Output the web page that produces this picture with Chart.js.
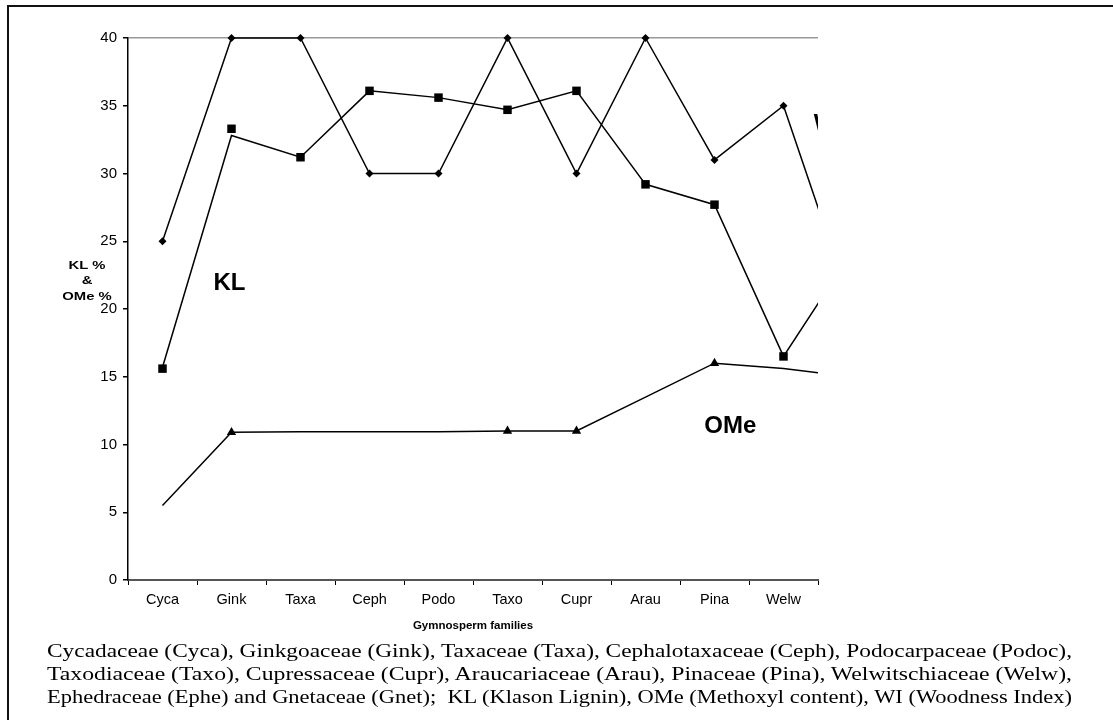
<!DOCTYPE html>
<html>
<head>
<meta charset="utf-8">
<script src="https://cdn.jsdelivr.net/npm/chart.js@4.4.1/dist/chart.umd.min.js"></script>
<style>
  body { margin: 0; background: #fff; overflow: hidden; }
  #page { position: relative; width: 1113px; height: 720px; overflow: hidden; }
  #frame { position: absolute; left: 7px; top: 5px; width: 1300px; height: 900px; border-top: 2px solid #111; border-left: 2px solid #111; }
  #wrap { position: absolute; left: 0; top: 0; width: 850px; height: 640px; }
  #caption { position: absolute; left: 47px; top: 639px; font-family: "Liberation Serif", "Times New Roman", serif; font-size: 19px; line-height: 23px; color: #000; }
  #caption div { white-space: nowrap; width: max-content; transform-origin: 0 0; }
</style>
</head>
<body>
<div id="page">
  <div id="frame"></div>
  <div id="wrap"><canvas id="myChart"></canvas></div>
  <div id="caption">
    <div>Cycadaceae (Cyca), Ginkgoaceae (Gink), Taxaceae (Taxa), Cephalotaxaceae (Ceph), Podocarpaceae (Podoc),</div>
    <div>Taxodiaceae (Taxo), Cupressaceae (Cupr), Araucariaceae (Arau), Pinaceae (Pina), Welwitschiaceae (Welw),</div>
    <div>Ephedraceae (Ephe) and Gnetaceae (Gnet);&nbsp; KL (Klason Lignin), OMe (Methoxyl content), WI (Woodness Index)</div>
  </div>
</div>
<script>
// Gymnosperm families (the picture is cut off after Welw)
const families = ['Cyca', 'Gink', 'Taxa', 'Ceph', 'Podo', 'Taxo', 'Cupr', 'Arau', 'Pina', 'Welw', 'Ephe', 'Gnet'];
const lastShown = 'Welw';

// WI (diamonds)
const wiValues = [25, 40, 40, 30, 30, 40, 30, 40, 31, 35, 20, null];
// KL line and its square markers (they sit slightly off the line in the original)
const klLine = [15.7, 32.8, 31.2, 36.1, 35.6, 34.7, 36.1, 29.2, 27.7, 16.5, 24.3, null];
const klMarks = [15.6, 33.3, 31.2, 36.1, 35.6, 34.7, 36.1, 29.2, 27.7, 16.5, null, null];
// OMe line and the triangles that are drawn on it
const omeLine = [5.5, 10.9, 10.95, 10.95, 10.95, 11.0, 11.0, 13.5, 16.0, 15.6, 15.0, null];
const omeMarks = [null, 10.9, null, null, null, 11.0, 11.0, null, 16.0, null, null, null];

const yTicks = { min: 0, max: 40, step: 5 };
const yTitle = ['KL %', '&', 'OMe %'];

// series labels inside the plot, anchored in data units
const notes = [
    { text: 'KL', x: 0.97, y: 21.9, align: 'center' },
    { text: 'OMe', x: 8.23, y: 11.35, align: 'center' },
    { text: 'WI', x: 9.44, y: 33.6, align: 'left' }
];

const labelPlugin = {
    id: 'labelPlugin',
    afterDatasetsDraw(chart) {
        const { ctx, chartArea, scales } = chart;
        ctx.save();
        ctx.beginPath();
        ctx.rect(chartArea.left, chartArea.top, chartArea.right - chartArea.left, chartArea.bottom - chartArea.top);
        ctx.clip();
        ctx.fillStyle = '#000';
        ctx.font = 'bold 24px "Liberation Sans", Arial, sans-serif';
        ctx.textBaseline = 'middle';
        notes.forEach(n => {
            ctx.textAlign = n.align;
            ctx.fillText(n.text, scales.x.getPixelForValue(n.x), scales.y.getPixelForValue(n.y));
        });
        ctx.restore();

        // horizontal y axis title, a bit wide like the original
        ctx.save();
        ctx.fillStyle = '#000';
        ctx.font = 'bold 11px "Liberation Sans", Arial, sans-serif';
        ctx.textAlign = 'center';
        ctx.textBaseline = 'middle';
        const cx = chartArea.left - 41;
        const cy = (chartArea.top + chartArea.bottom) / 2 - 28;
        yTitle.forEach((t, i) => {
            ctx.save();
            ctx.translate(cx, cy + (i - 1) * 15.5);
            ctx.scale(1.35, 1);
            ctx.fillText(t, 0, 0);
            ctx.restore();
        });
        ctx.restore();
    }
};

const ctx = document.getElementById('myChart');
const myChart = new Chart(ctx, {
    type: 'line',
    data: {
        labels: families,
        datasets: [{
            data: wiValues,
            borderColor: '#000',
            borderWidth: 1.5,
            pointStyle: 'rectRot',
            pointRadius: 4,
            pointBackgroundColor: '#000',
            pointBorderWidth: 0,
            tension: 0
        }, {
            data: klLine,
            borderColor: '#000',
            borderWidth: 1.5,
            pointRadius: 0,
            tension: 0
        }, {
            data: klMarks,
            showLine: false,
            pointStyle: 'rect',
            pointRadius: 6,
            pointBackgroundColor: '#000',
            pointBorderWidth: 0
        }, {
            data: omeLine,
            borderColor: '#000',
            borderWidth: 1.5,
            pointRadius: 0,
            tension: 0
        }, {
            data: omeMarks,
            showLine: false,
            pointStyle: 'triangle',
            pointRadius: 5.4,
            pointBackgroundColor: '#000',
            pointBorderWidth: 0
        }]
    },
    options: {
        responsive: true,
        maintainAspectRatio: false,
        animation: false,
        layout: { padding: { top: 38, right: 32, left: 0, bottom: 0 } },
        datasets: {
            // hard cut at the right edge of the plot, like the cropped original
            line: { clip: { left: 10, top: 10, right: 0, bottom: 10 } }
        },
        plugins: {
            legend: { display: false },
            tooltip: { enabled: false }
        },
        scales: {
            x: {
                offset: true,
                // cut the axis after Welw but keep the lines running on to Ephe
                afterDataLimits: s => { s.max = families.indexOf(lastShown); },
                afterFit: s => { s.height = 60; },
                grid: {
                    offset: true,
                    drawOnChartArea: false,
                    color: '#000',
                    tickLength: 5
                },
                border: { display: true, color: '#555', width: 2 },
                ticks: {
                    color: '#000',
                    padding: 6,
                    font: { family: '"Liberation Sans", Arial, sans-serif', size: 14.5 }
                },
                title: {
                    display: true,
                    text: 'Gymnosperm families',
                    color: '#000',
                    padding: { top: 0, bottom: 7 },
                    font: { family: '"Liberation Sans", Arial, sans-serif', size: 11.5, weight: 'bold' }
                }
            },
            y: {
                min: yTicks.min,
                max: yTicks.max,
                afterFit: s => { s.width = 128; },
                grid: {
                    color: c => c.tick && c.tick.value === 40 ? '#999' : 'rgba(0,0,0,0)',
                    lineWidth: 1.5,
                    tickColor: '#000',
                    tickLength: 5
                },
                border: { display: true, color: '#000', width: 1.5 },
                ticks: {
                    stepSize: yTicks.step,
                    color: '#000',
                    padding: 6,
                    font: { family: '"Liberation Sans", Arial, sans-serif', size: 15 }
                }
            }
        }
    },
    plugins: [labelPlugin]
});

// stretch each caption line to the full text width, as in the printed figure
function fitCaption() {
    document.querySelectorAll('#caption div').forEach(d => {
        d.style.transform = 'none';
        const w = d.getBoundingClientRect().width;
        d.style.transform = 'scaleX(' + (1025 / w) + ')';
    });
}
fitCaption();
if (document.fonts) document.fonts.ready.then(fitCaption);
</script>
</body>
</html>
